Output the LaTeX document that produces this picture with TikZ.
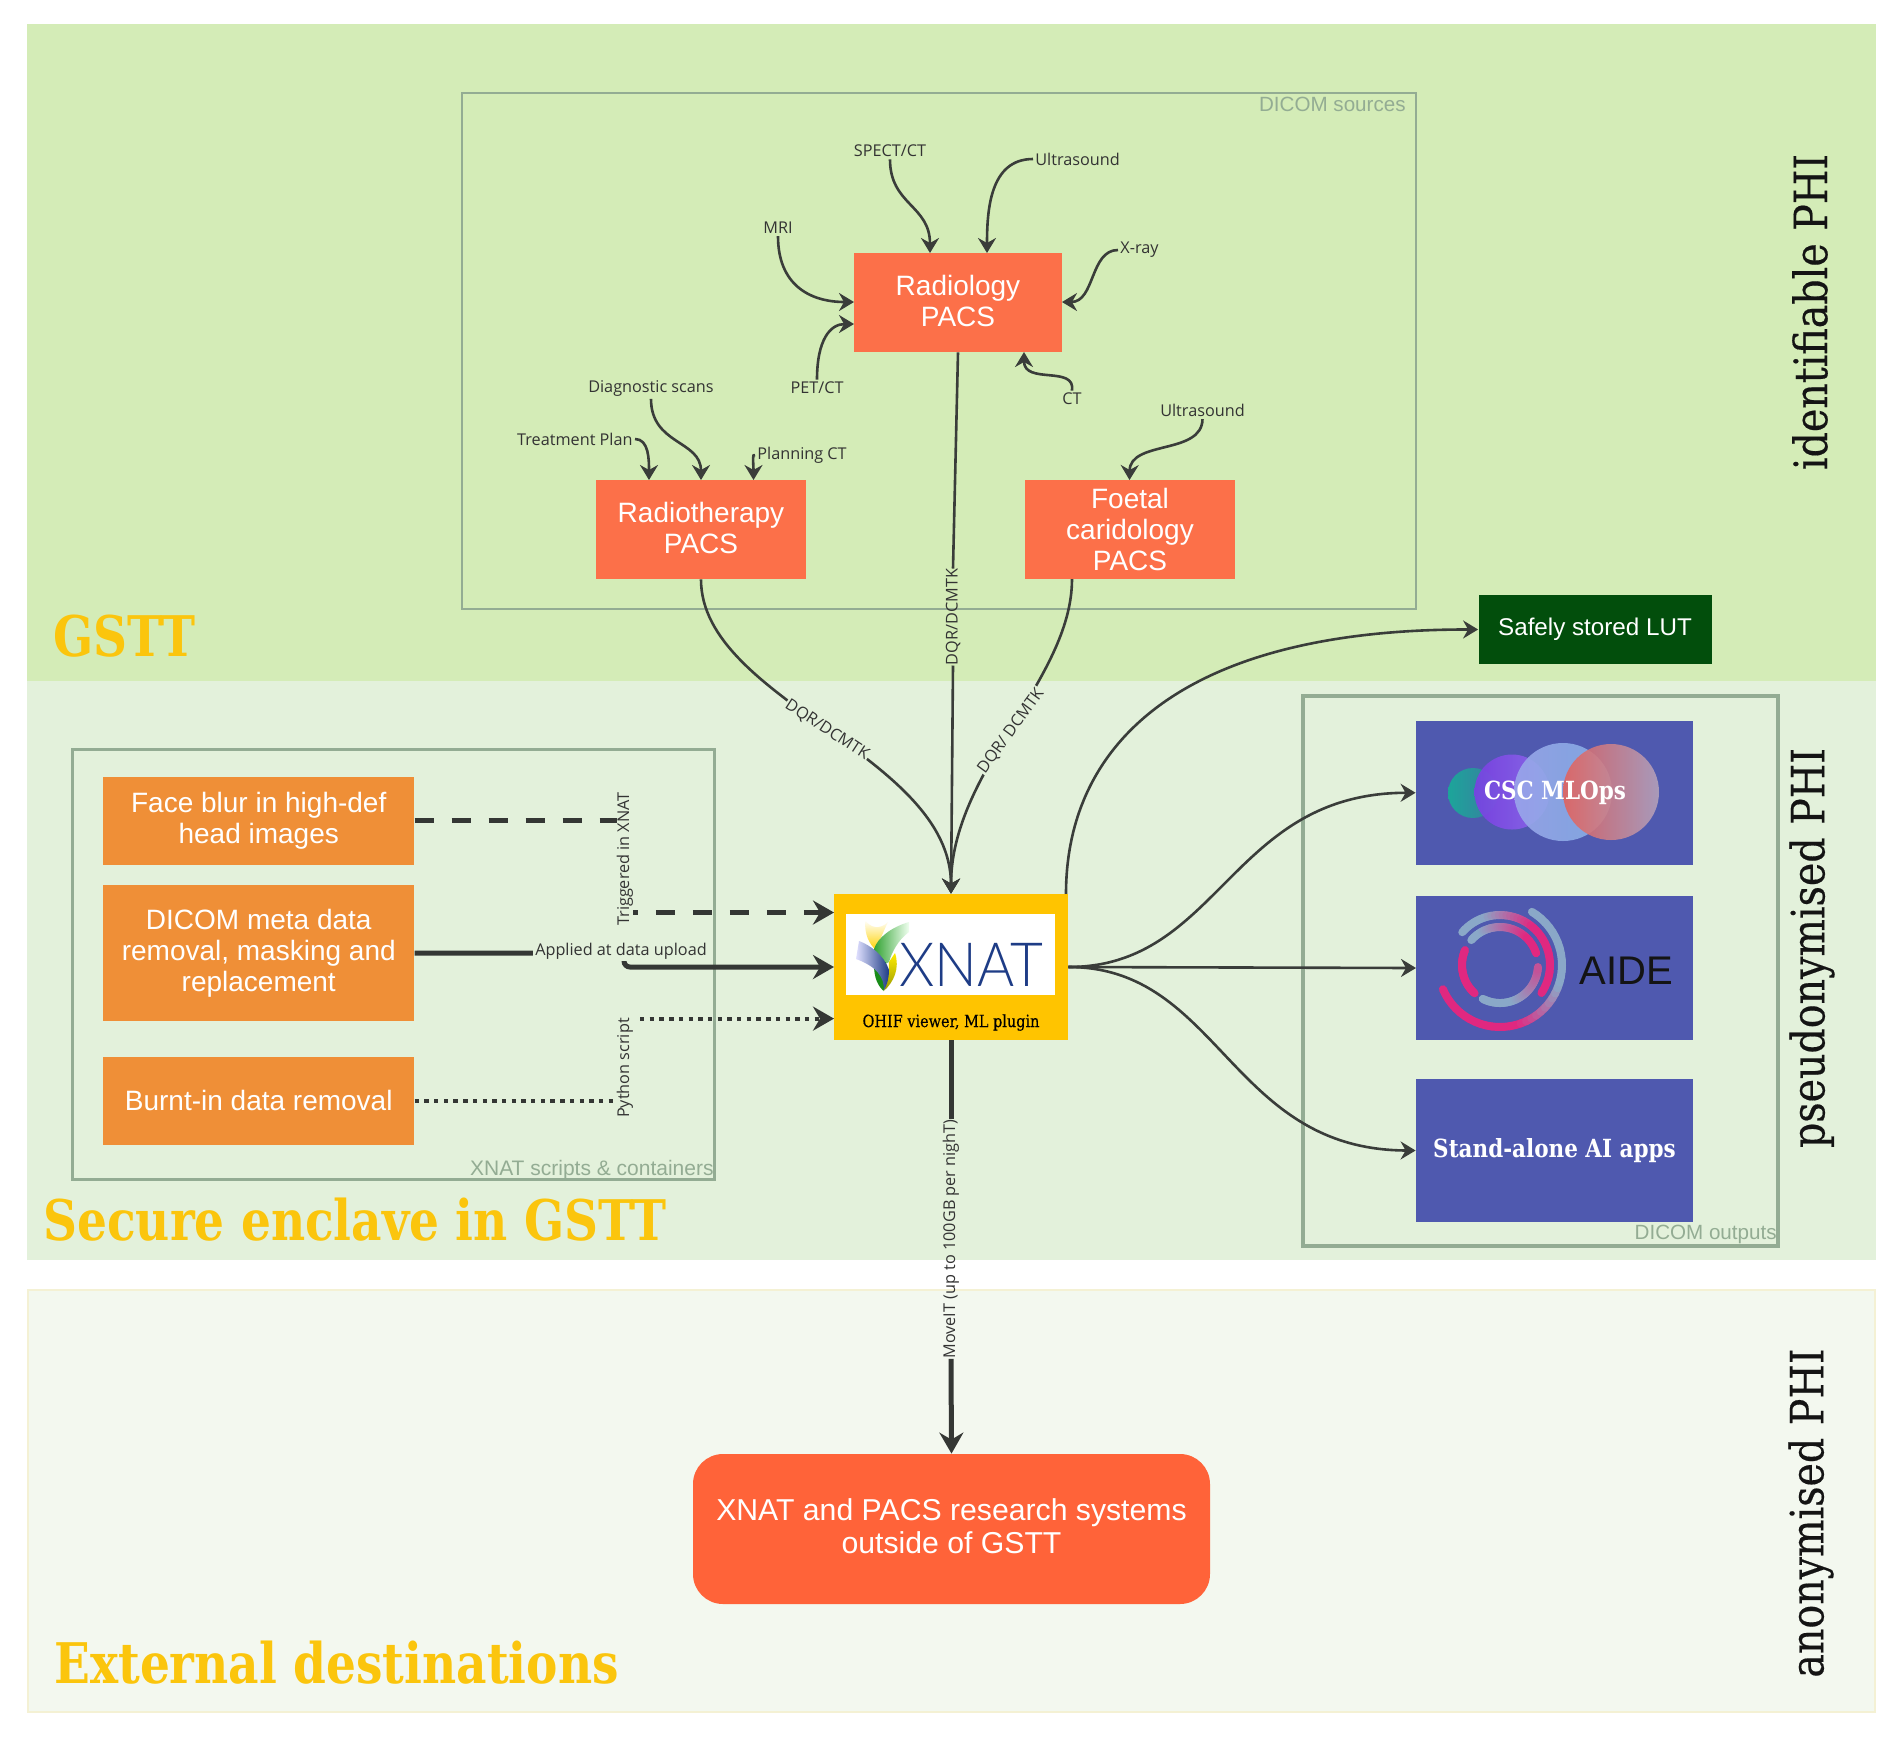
\documentclass[tikz,border=0pt]{standalone}
\usepackage{fontspec}
\usetikzlibrary{arrows.meta,calc}
\setmainfont{Liberation Sans}
\newfontfamily\slab[FakeStretch=0.86]{DejaVu Serif}
\newfontfamily\slabt[FakeStretch=0.84]{DejaVu Serif}
\newfontfamily\slabs[FakeStretch=0.86,FakeBold=0.35]{DejaVu Serif}
\newfontfamily\lblfont{Open Sans}
\newfontfamily\xnatfont[FakeStretch=0.93]{Lato Light}
\definecolor{bandA}{HTML}{D4ECB7}
\definecolor{bandB}{HTML}{E3F1DB}
\definecolor{bandC}{HTML}{F3F8EF}
\definecolor{bandCline}{HTML}{F4F1D4}
\definecolor{frameC}{HTML}{93AC93}
\definecolor{pacsC}{HTML}{FC7049}
\definecolor{procC}{HTML}{EF8F37}
\definecolor{blueC}{HTML}{4F59AF}
\definecolor{xnatC}{HTML}{FFC400}
\definecolor{lutC}{HTML}{024E0C}
\definecolor{resC}{HTML}{FF6339}
\definecolor{titleC}{HTML}{FBC50D}
\definecolor{connC}{HTML}{3A3D3A}
\definecolor{aidePink}{HTML}{E02880}
\definecolor{aideGrey}{HTML}{8AA8C8}
\definecolor{xnatBlue}{HTML}{1E3C86}
\definecolor{tealL}{HTML}{1CA59A}
\definecolor{tealR}{HTML}{3A7DA0}
\definecolor{purpL}{HTML}{7B3FE4}
\definecolor{purpR}{HTML}{8E6BEB}
\definecolor{skyL}{HTML}{9AA6EA}
\definecolor{skyR}{HTML}{84B0E4}
\definecolor{redL}{HTML}{E4605A}
\definecolor{redR}{HTML}{B5A3BC}
\pgfdeclarelayer{back}
\pgfdeclarelayer{wires}
\pgfsetlayers{back,wires,main}
\tikzset{
  wh/.style 2 args={minimum width=#1*0.5pt,minimum height=#2*0.5pt,inner sep=0pt,align=center},
  pacs/.style={fill=pacsC,text=white,font=\fontsize{14}{15.5}\selectfont},
  proc/.style={fill=procC,text=white,font=\fontsize{14}{15.5}\selectfont},
  outbox/.style={fill=blueC,text=white},
  lbl/.style={font=\lblfont\fontsize{8.12}{9.5}\selectfont,text=black!80,inner sep=1pt},
  vlbl/.style={lbl,rotate=90,inner sep=0pt},
  framebox/.style={draw=frameC,fill=none},
  framelbl/.style={text=frameC,inner sep=0pt,anchor=east},
  title/.style={font=\slabt\bfseries\fontsize{28}{30}\selectfont,text=titleC,anchor=base west,inner sep=0pt},
  side/.style={font=\slabs\fontsize{23}{26}\selectfont,text=black!92,rotate=90,inner sep=0pt},
  wire/.style={draw=connC,line width=1.3pt,-{Stealth[length=7.5pt,width=9pt,inset=2.5pt]}},
  heavy/.style={draw=connC!90!black,line width=2.5pt,-{Stealth[length=10.5pt,width=12pt,inset=3.5pt]}},
  dotwire/.style={draw=connC!90!black,line width=2pt,dash pattern=on 2.2pt off 2.65pt},
}
\newcommand{\garc}[5]{%
  \foreach \i in {0,...,39}{%
    \pgfmathsetmacro\aa{#2+(#3-(#2))*\i/40}%
    \pgfmathsetmacro\ab{#2+(#3-(#2))*(\i+1)/40}%
    \pgfmathsetmacro\mm{max(0,min(100,(\aa-(#4))/((#5)-(#4))*100))}%
    \draw[line width=4pt,line cap=round,color=aidePink!\mm!aideGrey]
      ({1500+#1*cos(\aa)},{965-#1*sin(\aa)}) -- ({1500+#1*cos(\ab)},{965-#1*sin(\ab)});
  }%
}
\begin{document}
\begin{tikzpicture}[x=0.5pt,y=-0.5pt]
\useasboundingbox (0,0) rectangle (1903,1737);
\begin{pgfonlayer}{back}
  \fill[white] (0,0) rectangle (1903,1737);
  \fill[bandA] (27,24) rectangle (1876,681);
  \fill[bandB] (27,681) rectangle (1876,1260);
  \filldraw[fill=bandC,draw=bandCline,line width=1pt] (28,1290) rectangle (1875,1712);
  \draw[framebox,line width=1.3pt] (462,93) rectangle (1416,609);
  \draw[framebox,line width=1.5pt] (72,749) rectangle (714.5,1179);
  \draw[framebox,line width=2pt] (1303,696) rectangle (1778,1246);
\end{pgfonlayer}

% region titles
\node[title] (tA) at (53,656) {GSTT};
\node[title] (tB) at (43,1240) {Secure enclave in GSTT};
\node[title] (tC) at (54,1683) {External destinations};
\node[side] (sA) at (1810,312) {identifiable PHI};
\node[side] (sB) at (1812,948) {pseudonymised PHI};
\node[side] (sC) at (1811,1513) {anonymised PHI};

% frame captions
\node[framelbl,font=\fontsize{10.3}{12}\selectfont] (fA) at (1406,104) {DICOM sources};
\node[framelbl,font=\fontsize{10.5}{12}\selectfont] (fB) at (714,1170) {XNAT scripts \& containers};
\node[framelbl,font=\fontsize{10.3}{12}\selectfont] (fC) at (1777,1234) {DICOM outputs};

% PACS
\node[pacs,wh={208}{99},text depth=2pt] (rad) at (958,302.5) {Radiology\\PACS};
\node[pacs,wh={210}{99},text depth=2pt] (rt) at (701,529.5) {Radiotherapy\\PACS};
\node[pacs,wh={210}{99}] (foe) at (1130,529.5) {Foetal\\caridology\\PACS};

% source labels
\node[lbl] (spect) at (890,151) {SPECT/CT};
\node[lbl,anchor=west] (us) at (1033,159) {Ultrasound};
\node[lbl] (mri) at (778,228) {MRI};
\node[lbl,anchor=west] (xray) at (1118,250) {X-ray};
\node[lbl] (pet) at (817,388) {PET/CT};
\node[lbl] (ct) at (1072,399) {CT};
\node[lbl] (diag) at (651,388.5) {Diagnostic scans};
\node[lbl,anchor=east] (plan) at (635,439) {Treatment Plan};
\node[lbl,anchor=west] (pct) at (755,455) {Planning CT};
\node[lbl] (us2) at (1202.5,410.5) {Ultrasound};

% processing boxes
\node[proc,wh={311}{88}] (face) at (258.75,820.75) {Face blur in high-def\\head images};
\node[proc,wh={311}{136}] (meta) at (258.75,953) {DICOM meta data\\removal, masking and\\replacement};
\node[proc,wh={311}{88.5}] (burn) at (258.75,1100.75) {Burnt-in data removal};

% XNAT
\node[fill=xnatC,wh={234}{146}] (xnat) at (951,967) {};
\fill[white] (846,914) rectangle (1055,995);
\node[font=\slabs\fontsize{8.4}{10}\selectfont,text=black,inner sep=0pt] (ohif) at (951,1022.5) {OHIF viewer, ML plugin};
\node[font=\xnatfont\fontsize{30.5}{32}\selectfont,text=xnatBlue,inner sep=0pt,anchor=base west] (xnatword) at (899,986) {XNAT};
% XNAT leaves
\shade[top color=white,bottom color=yellow!65!orange] (865.3,920) .. controls (864,935) and (870,945) .. (876,950) .. controls (880,940) and (884,930) .. (888,922) .. controls (880,930) and (870,928) .. (865.3,920) -- cycle;
\shade[top color=yellow!85!orange,bottom color=yellow!60!black] (895,953) .. controls (900,968) and (894,982) .. (883.7,991) .. controls (888,980) and (889,970) .. (889,962) -- cycle;
\shade[left color=green!55!black!80!white,right color=green!6!white] (909,922) .. controls (892,927) and (878,937) .. (874,949) -- (878,968) .. controls (884,965) and (887,963) .. (889,962) .. controls (892,952) and (898,940) .. (909,932) -- cycle;
\fill[green!50!black!90!white] (874,965) .. controls (874,978) and (878,986) .. (883.7,991) .. controls (884,980) and (885,972) .. (886,962) -- cycle;
\shade[left color=blue!12!white,right color=xnatBlue] (859,941) .. controls (870,945) and (884,955) .. (889,970) .. controls (889,978) and (887,985) .. (884,990) .. controls (884,978) and (878,967) .. (856,959) -- cycle;

% outputs
\node[outbox,wh={277}{143.5}] (csc) at (1554.5,792.75) {};
\shade[left color=tealL,right color=tealR] (1473,793) circle [radius=12.5pt];
\shade[left color=purpL,right color=purpR,fill opacity=0.9] (1512,792) circle [radius=18.75pt];
\shade[left color=skyL,right color=skyR,fill opacity=0.9] (1563,792) circle [radius=24.5pt];
\shade[left color=redL,right color=redR,fill opacity=0.88] (1611,792) circle [radius=24pt];
\node[font=\slab\bfseries\fontsize{12.5}{14}\selectfont,text=white,inner sep=0pt] (csct) at (1555,793) {CSC MLOps};
\node[outbox,wh={277}{144}] (aide) at (1554.5,968) {};
\garc{62}{203}{419}{340}{285}
\garc{50}{139}{-34}{110}{50}
\garc{38}{139}{18}{120}{45}
\garc{38}{157}{228}{0}{100}
\garc{38}{243}{357}{290}{385}
\node[font=\fontsize{20}{24}\selectfont,text=black!92,inner sep=0pt] (aidet) at (1626,971) {AIDE};
\node[outbox,wh={277}{143.5},font=\slab\bfseries\fontsize{12.5}{14}\selectfont] (alone) at (1554.5,1150.5) {Stand-alone AI apps};

\node[fill=lutC,text=white,wh={233}{69},font=\fontsize{12.1}{14}\selectfont] (lut) at (1595,629.5) {Safely stored LUT};
\node[fill=resC,text=white,wh={517}{150},rounded corners=15pt,font=\fontsize{15.1}{16.5}\selectfont,text depth=3pt] (res) at (951.5,1529) {XNAT and PACS research systems\\outside of GSTT};

% connector labels
\node[vlbl] (ldqr) at (953,617) {DQR/DCMTK};
\node[lbl,fill=bandB,rotate=-33,inner sep=0.5pt] (lrt) at (827,730) {DQR/DCMTK};
\node[lbl,fill=bandB,rotate=54,inner sep=0.5pt] (lfoe) at (1011,731) {DQR/ DCMTK};
\node[vlbl,fill=bandB] (ltrig) at (625,859) {Triggered in XNAT};
\node[lbl,fill=bandB] (lapp) at (621,951) {Applied at data upload};
\node[vlbl,fill=bandB] (lpy) at (625,1068) {Python script};
\node[vlbl] (lmove) at (951,1239) {MoveIT (up to 100GB per nighT)};

% connector ports
\coordinate (radN1) at (930,253);
\coordinate (radN2) at (987,253);
\coordinate (radW1) at (854,302);
\coordinate (radW2) at (854,324);
\coordinate (radE) at (1062,302);
\coordinate (radS2) at (1024,352);
\coordinate (rtN1) at (649,480);
\coordinate (rtN2) at (701,480);
\coordinate (rtN3) at (753.5,480);
\coordinate (foeN) at (1129.5,480);
\coordinate (foeS) at (1072,579);
\coordinate (xnW1) at (834,912.5);
\coordinate (xnW2) at (834,967);
\coordinate (xnW3) at (834,1018.6);
\coordinate (xnN2) at (1066,894);
\coordinate (aideW) at (1416,968);
\coordinate (trigA) at (623,820.75);
\coordinate (trigB) at (623,912.5);
\coordinate (appA) at (624,953);
\coordinate (appB) at (624,967);
\coordinate (pyA) at (618,1100.75);
\coordinate (pyB) at (640,1018.6);

\begin{pgfonlayer}{wires}
  \draw[wire] (spect.south) .. controls (890,205) and (930,205) .. (radN1);
  \draw[wire] (us.west) .. controls (990,159) and (987,210) .. (radN2);
  \draw[wire] (mri.south) .. controls (778,285) and (810,302) .. (radW1);
  \draw[wire] (pet.north) .. controls (817,340) and (830,324) .. (radW2);
  \draw[wire] (xray.west) .. controls (1090,250) and (1095,302) .. (radE);
  \draw[wire] (ct.north) .. controls (1076,365) and (1024,385) .. (radS2);
  \draw[wire] (plan.east) .. controls (649,439) and (649,460) .. (rtN1);
  \draw[wire] (diag.south) .. controls (651,445) and (701,440) .. (rtN2);
  \draw[wire] (pct.west) .. controls (752,452) and (753.5,465) .. (rtN3);
  \draw[wire] (us2.south) .. controls (1202,455) and (1130,440) .. (foeN);

  \draw[draw=connC,line width=1.3pt] (rad.south) -- (ldqr.east);
  \draw[wire] (ldqr.west) -- (xnat.north);
  \draw[wire] (rt.south) .. controls (701,700) and (951,755) .. (xnat.north);
  \draw[wire] (foeS) .. controls (1072,680) and (951,770) .. (xnat.north);
  \draw[wire] (xnN2) .. controls (1066,745) and (1180,629) .. (lut.west);
  \draw[wire] (xnat.east) .. controls (1220,967) and (1230,793) .. (csc.west);
  \draw[wire] (xnat.east) -- (aideW);
  \draw[wire] (xnat.east) .. controls (1220,967) and (1230,1150) .. (alone.west);

  \draw[heavy,dash pattern=on 9.5pt off 9pt] (face.east) -- (trigA) -- (trigB) -- (xnW1);
  \draw[heavy,rounded corners=3pt] (meta.east |- appA) -- (appA) -- (appB) -- (xnW2);
  \draw[dotwire] (burn.east) -- (pyA);
  \draw[dotwire,-{Stealth[length=10.5pt,width=12pt,inset=3.5pt]}] (pyB) -- (xnW3);

  \draw[draw=connC!90!black,line width=2.5pt] (xnat.south) -- (lmove.east);
  \draw[heavy] (lmove.west) -- (res.north);
\end{pgfonlayer}
\end{tikzpicture}
\end{document}
